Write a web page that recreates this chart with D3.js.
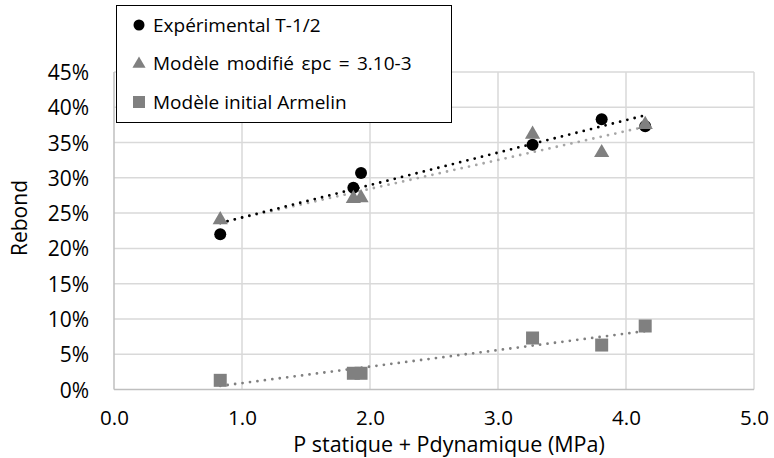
<!DOCTYPE html>
<html><head><meta charset="utf-8">
<script src="https://cdn.jsdelivr.net/npm/d3@7"></script>
<style>html,body{margin:0;padding:0;background:#fff}</style>
</head><body>
<svg id="c" width="774" height="458"></svg>
<script>
const seriesNames = ["Expérimental T-1/2", "Modèle modifié εpc = 3.10-3", "Modèle initial Armelin"];
const xValues = [0.83, 1.87, 1.93, 3.27, 3.81, 4.15];
const expValues = [0.220, 0.286, 0.307, 0.347, 0.383, 0.373];
const modValues = [0.242, 0.272, 0.273, 0.363, 0.337, 0.377];
const iniValues = [0.013, 0.023, 0.023, 0.073, 0.063, 0.090];
const xTicks = [0, 1, 2, 3, 4, 5];
const yTicks = [0, 0.05, 0.10, 0.15, 0.20, 0.25, 0.30, 0.35, 0.40, 0.45];

const font = "'Open Sans', sans-serif";
const svg = d3.select("#c");
const x = d3.scaleLinear().domain([0, 5]).range([114, 754]);
const y = d3.scaleLinear().domain([0, 0.45]).range([389.5, 72]);

// gridlines
svg.append("g").selectAll("line").data(yTicks.slice(1)).join("line")
  .attr("x1", x(0)).attr("x2", x(5)).attr("y1", d => y(d)).attr("y2", d => y(d))
  .attr("stroke", "#d9d9d9").attr("stroke-width", 1.5);
svg.append("g").selectAll("line").data(xTicks.slice(1)).join("line")
  .attr("y1", y(0)).attr("y2", y(0.45)).attr("x1", d => x(d)).attr("x2", d => x(d))
  .attr("stroke", "#d9d9d9").attr("stroke-width", 1.5);
// axes lines
svg.append("line").attr("x1", x(0)).attr("x2", x(5)).attr("y1", y(0)).attr("y2", y(0))
  .attr("stroke", "#bfbfbf").attr("stroke-width", 1.5);
svg.append("line").attr("x1", x(0)).attr("x2", x(0)).attr("y1", y(0)).attr("y2", y(0.45))
  .attr("stroke", "#bfbfbf").attr("stroke-width", 1.5);

// tick labels via axes
const yAxis = d3.axisLeft(y).tickValues(yTicks).tickFormat(d3.format(".0%")).tickSize(0).tickPadding(0);
const gy = svg.append("g").attr("transform", "translate(89,0)").call(yAxis);
gy.select(".domain").remove();
gy.selectAll("text").attr("font-family", font).attr("font-size", 21).attr("fill", "#000").attr("dy", "0.36em");

const xAxis = d3.axisBottom(x).tickValues(xTicks).tickFormat(d3.format(".1f")).tickSize(0).tickPadding(0);
const gx = svg.append("g").attr("transform", "translate(0,424.5)").call(xAxis);
gx.select(".domain").remove();
gx.selectAll("text").attr("font-family", font).attr("font-size", 20.5).attr("fill", "#000").attr("y", 0).attr("dy", 0);

// axis titles
svg.append("text").attr("x", 449).attr("y", 452).attr("text-anchor", "middle")
  .attr("font-family", font).attr("font-size", 21.5).text("P statique + Pdynamique (MPa)");
svg.append("text").attr("transform", "translate(27,218) rotate(-90)").attr("text-anchor", "middle")
  .attr("font-family", font).attr("font-size", 21).text("Rebond");

// trendlines
function fit(xs, ys) {
  const mx = d3.mean(xs), my = d3.mean(ys);
  const b = d3.sum(xs, (v, i) => (v - mx) * (ys[i] - my)) / d3.sum(xs, v => (v - mx) * (v - mx));
  return [b, my - b * mx];
}
const xmin = d3.min(xValues), xmax = d3.max(xValues);
const trend = [
  {vals: iniValues, color: "#808080"},
  {vals: modValues, color: "#a6a6a6"},
  {vals: expValues, color: "#000000"}
];
trend.forEach(t => {
  const [b, a] = fit(xValues, t.vals);
  svg.append("line").attr("x1", x(xmin)).attr("y1", y(a + b * xmin))
    .attr("x2", x(xmax)).attr("y2", y(a + b * xmax))
    .attr("stroke", t.color).attr("stroke-width", 2.8)
    .attr("stroke-linecap", "round").attr("stroke-dasharray", "0 7.5");
});

// markers
const tri = d3.symbol().type(d3.symbolTriangle).size(100);
svg.append("g").selectAll("rect").data(xValues).join("rect")
  .attr("x", (d) => x(d) - 6.5).attr("y", (d, i) => y(iniValues[i]) - 6.5)
  .attr("width", 13).attr("height", 13).attr("fill", "#808080");
svg.append("g").selectAll("circle").data(xValues).join("circle")
  .attr("cx", d => x(d)).attr("cy", (d, i) => y(expValues[i])).attr("r", 6).attr("fill", "#000");
svg.append("g").selectAll("path").data(xValues).join("path")
  .attr("d", tri).attr("transform", (d, i) => `translate(${x(d)},${y(modValues[i]) + 1})`)
  .attr("fill", "#808080");

// legend
const lg = svg.append("g");
lg.append("rect").attr("x", 116.5).attr("y", 5.5).attr("width", 335).attr("height", 117)
  .attr("fill", "#fff").attr("stroke", "#000").attr("stroke-width", 1);
const rows = [25, 63, 102];
lg.append("circle").attr("cx", 139).attr("cy", rows[0]).attr("r", 5.5).attr("fill", "#000");
lg.append("path").attr("d", d3.symbol().type(d3.symbolTriangle).size(75)).attr("transform", `translate(139,${rows[1] + 1})`).attr("fill", "#808080");
lg.append("rect").attr("x", 133).attr("y", rows[2] - 6).attr("width", 12).attr("height", 12).attr("fill", "#808080");
lg.selectAll("text.l").data(seriesNames).join("text").attr("class", "l")
  .attr("x", 153).attr("y", (d, i) => rows[i]).attr("dy", "0.36em")
  .attr("font-family", font).attr("font-size", 19).text(d => d)
  .each(function(d, i) { if (i === 1) d3.select(this).attr("word-spacing", 2.5); });
</script>
</body></html>
